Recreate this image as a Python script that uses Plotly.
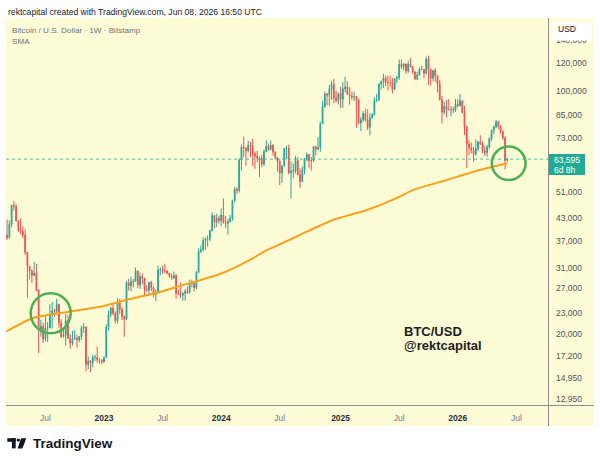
import math
import pandas as pd
import plotly.graph_objects as go

# ---------------- DATA (BTC/USD weekly, values in USD thousands) ----------------
first_week = "2022-03-07"   # weekly candles, one per Monday

opens = [
    38.4, 37.8, 41.3, 46.8, 46.4, 42.2, 39.7, 39.4, 38.5, 34.3, 31.3, 30.3, 29.4, 29.9, 26.6, 20.6, 21.0, 19.3, 20.8, 20.8, 22.6, 23.3, 23.2, 24.3, 21.5, 19.6, 19.8, 21.8, 19.4, 18.8, 19.3, 19.4, 19.2, 19.6, 20.8, 20.9, 16.3, 16.7, 16.5, 17.1, 17.1, 16.8, 16.8,
    16.6, 17.1, 20.9, 22.7, 23.7, 22.9, 21.8, 24.6, 23.5, 22.4, 22.0, 28.0, 27.5, 28.2, 28.3, 30.3, 27.6, 29.2, 28.9, 26.9, 26.7, 28.1, 27.1, 25.9, 26.3, 30.5, 30.6, 30.3, 30.3, 29.9, 29.3, 29.0, 29.4, 26.1, 26.1, 25.8, 26.1, 26.5, 26.3, 27.9, 27.9, 27.1, 30.0, 34.5, 35.0, 37.1, 37.4, 37.5, 39.5, 43.8, 41.9, 43.0,
    42.3, 43.9, 41.8, 41.6, 42.0, 43.0, 48.3, 52.1, 51.7, 63.1, 68.9, 68.4, 67.2, 69.7, 69.4, 65.7, 64.9, 63.9, 64.0, 61.5, 66.9, 69.3, 67.8, 69.6, 66.7, 64.3, 62.7, 58.0, 60.8, 68.2, 68.3, 58.1, 58.7, 58.9, 63.0, 57.3, 54.8, 59.2, 63.6, 65.6, 62.9, 62.9, 69.0, 67.9, 68.7, 80.4, 89.8, 97.9, 97.3, 101.1, 104.3, 95.2, 93.7,
    98.3, 94.5, 101.3, 102.6, 97.7, 96.5, 96.1, 96.3, 94.2, 80.7, 82.6, 86.1, 82.3, 78.4, 83.7, 85.2, 93.7, 94.3, 104.6, 106.4, 109.0, 105.7, 105.6, 105.5, 101.0, 108.4, 109.2, 119.1, 117.3, 119.4, 114.2, 119.3, 117.4, 113.5, 108.2, 111.1, 115.3, 115.2, 112.2, 123.5, 115.2, 108.6, 114.5, 110.5, 104.7, 94.2, 86.8, 90.4, 88.4, 88.2, 88.4, 87.8,
    91.5, 90.6, 93.6, 86.6, 78.7, 70.3, 68.6, 67.4, 65.8, 68.2, 71.2, 70.4, 67.0, 66.4, 68.9, 72.8, 76.9, 78.8, 81.5, 79.0, 76.3, 73.2, 63.0,
]
highs = [
    42.6, 42.4, 47.0, 48.2, 47.2, 42.4, 42.9, 40.8, 40.0, 34.3, 31.3, 30.6, 32.2, 31.8, 26.9, 21.9, 21.5, 22.5, 21.6, 24.3, 24.7, 23.6, 25.2, 24.4, 22.0, 20.6, 22.8, 22.7, 19.9, 20.4, 20.5, 19.9, 19.7, 21.1, 21.5, 21.0, 17.2, 16.8, 17.4, 17.4, 18.4, 17.0, 16.9,
    17.2, 21.3, 23.3, 23.9, 24.3, 23.2, 25.3, 25.2, 23.9, 22.6, 28.4, 28.8, 29.2, 28.8, 31.0, 30.4, 30.0, 29.8, 28.9, 27.6, 28.2, 28.4, 27.4, 26.8, 31.4, 31.0, 31.4, 31.8, 30.4, 29.9, 29.8, 30.2, 29.7, 26.8, 28.1, 26.4, 26.9, 27.4, 28.6, 28.6, 28.0, 30.3, 35.2, 35.9, 37.9, 37.9, 38.4, 39.9, 44.7, 43.8, 44.3, 43.8,
    45.9, 49.0, 43.6, 42.8, 43.9, 48.6, 52.8, 52.9, 64.0, 70.0, 73.8, 68.9, 71.8, 71.3, 72.8, 66.9, 67.2, 64.7, 65.5, 67.7, 72.0, 70.6, 72.0, 70.2, 66.9, 64.3, 63.8, 61.0, 68.4, 69.4, 70.0, 62.7, 61.8, 65.0, 64.5, 59.8, 60.6, 64.1, 66.5, 65.6, 64.5, 69.4, 69.5, 73.6, 81.5, 93.5, 99.6, 98.7, 104.0, 106.5, 108.3, 99.9, 98.9,
    102.7, 106.0, 109.6, 106.5, 102.5, 99.4, 99.5, 96.5, 95.0, 84.0, 87.5, 88.8, 88.5, 86.1, 86.4, 95.8, 97.9, 104.9, 107.1, 111.9, 110.7, 110.6, 110.4, 108.9, 108.5, 110.5, 123.0, 123.2, 120.2, 119.8, 122.3, 124.5, 117.6, 113.6, 113.4, 116.8, 117.9, 115.2, 125.5, 126.2, 116.0, 114.5, 116.4, 110.8, 107.5, 96.6, 93.1, 94.1, 94.6, 90.4, 90.0, 94.8,
    94.8, 97.9, 93.7, 90.5, 79.5, 72.0, 70.9, 69.0, 72.5, 71.8, 74.5, 71.5, 69.5, 70.0, 73.5, 77.5, 79.5, 82.5, 82.0, 79.6, 77.0, 74.0, 64.2,
]
lows = [
    37.2, 37.6, 40.5, 45.2, 42.1, 39.2, 38.6, 37.6, 33.7, 25.4, 28.7, 28.0, 29.3, 26.5, 17.6, 19.6, 18.8, 19.0, 18.9, 20.7, 20.7, 22.4, 22.7, 20.8, 19.5, 19.5, 18.5, 19.3, 18.1, 18.5, 19.2, 18.2, 18.9, 19.2, 20.1, 15.6, 15.8, 15.5, 16.0, 16.7, 16.5, 16.4, 16.3,
    16.5, 17.1, 20.4, 22.3, 22.6, 21.4, 21.4, 22.8, 21.9, 19.6, 21.9, 26.6, 26.5, 27.2, 28.2, 27.1, 26.9, 27.7, 25.8, 26.4, 25.9, 26.5, 25.4, 24.8, 26.2, 29.5, 29.7, 29.9, 29.6, 29.0, 28.6, 28.7, 25.2, 25.8, 25.3, 24.9, 24.9, 26.0, 26.1, 27.2, 26.5, 26.9, 29.9, 34.1, 34.5, 34.8, 35.6, 36.9, 39.5, 40.2, 40.6, 41.5,
    40.8, 41.5, 40.3, 38.5, 41.8, 42.3, 47.7, 50.5, 50.9, 59.0, 64.5, 60.8, 66.5, 64.5, 60.7, 59.6, 62.4, 56.5, 60.2, 60.8, 66.6, 67.1, 67.4, 65.1, 63.4, 58.5, 53.5, 54.3, 60.6, 63.5, 57.5, 49.0, 56.1, 57.8, 57.2, 52.6, 54.6, 57.5, 62.7, 59.8, 58.9, 62.4, 65.1, 67.5, 66.8, 80.2, 89.4, 90.8, 90.5, 94.2, 92.2, 92.5, 91.3,
    89.3, 89.3, 98.9, 97.7, 91.2, 94.1, 93.4, 78.2, 80.0, 76.6, 81.2, 81.6, 77.1, 74.4, 83.1, 85.1, 92.8, 93.4, 100.7, 102.0, 103.1, 100.4, 102.7, 98.2, 100.4, 105.2, 107.5, 115.7, 114.7, 112.0, 112.7, 116.8, 111.7, 107.3, 107.3, 110.6, 114.7, 108.6, 111.6, 104.0, 103.5, 106.5, 106.3, 98.9, 94.0, 80.6, 85.3, 83.8, 87.9, 84.4, 86.4, 86.9,
    89.5, 90.0, 86.1, 74.6, 60.0, 65.2, 66.0, 62.5, 64.9, 67.0, 69.8, 66.2, 65.0, 64.6, 68.0, 71.6, 75.0, 78.0, 77.5, 75.3, 72.2, 59.4, 62.6,
]
closes = [
    37.8, 41.3, 46.8, 46.4, 42.2, 39.7, 39.4, 38.5, 34.3, 31.3, 30.3, 29.4, 29.9, 26.6, 20.6, 21.0, 19.3, 20.8, 20.8, 22.6, 23.3, 23.2, 24.3, 21.5, 19.6, 19.8, 21.8, 19.4, 18.8, 19.3, 19.4, 19.2, 19.6, 20.8, 20.9, 16.3, 16.7, 16.5, 17.1, 17.1, 16.8, 16.8, 16.6,
    17.1, 20.9, 22.7, 23.7, 22.9, 21.8, 24.6, 23.5, 22.4, 22.0, 28.0, 27.5, 28.2, 28.3, 30.3, 27.6, 29.2, 28.9, 26.9, 26.7, 28.1, 27.1, 25.9, 26.3, 30.5, 30.6, 30.3, 30.3, 29.9, 29.3, 29.0, 29.4, 26.1, 26.1, 25.8, 26.1, 26.5, 26.3, 27.9, 27.9, 27.1, 30.0, 34.5, 35.0, 37.1, 37.4, 37.5, 39.5, 43.8, 41.9, 43.0, 42.3,
    43.9, 41.8, 41.6, 42.0, 43.0, 48.3, 52.1, 51.7, 63.1, 68.9, 68.4, 67.2, 69.7, 69.4, 65.7, 64.9, 63.9, 64.0, 61.5, 66.9, 69.3, 67.8, 69.6, 66.7, 64.3, 62.7, 58.0, 60.8, 68.2, 68.3, 58.1, 58.7, 58.9, 63.0, 57.3, 54.8, 59.2, 63.6, 65.6, 62.9, 62.9, 69.0, 67.9, 68.7, 80.4, 89.8, 97.9, 97.3, 101.1, 104.3, 95.2, 93.7, 98.3,
    94.5, 101.3, 102.6, 97.7, 96.5, 96.1, 96.3, 94.2, 80.7, 82.6, 86.1, 82.3, 78.4, 83.7, 85.2, 93.7, 94.3, 104.6, 106.4, 109.0, 105.7, 105.6, 105.5, 101.0, 108.4, 109.2, 119.1, 117.3, 119.4, 114.2, 119.3, 117.4, 113.5, 108.2, 111.1, 115.3, 115.2, 112.2, 123.5, 115.2, 108.6, 114.5, 110.5, 104.7, 94.2, 86.8, 90.4, 88.4, 88.2, 88.4, 87.8, 91.5,
    90.6, 93.6, 86.6, 78.7, 70.3, 68.6, 67.4, 65.8, 68.2, 71.2, 70.4, 67.0, 66.4, 68.9, 72.8, 76.9, 78.8, 81.5, 79.0, 76.3, 73.2, 63.0, 63.595,
]

# 200-week SMA, USD thousands
sma_dates = ["2022-03-04", "2022-05-27", "2022-09-09", "2022-12-21", "2023-04-02", "2023-06-15",
             "2023-09-04", "2023-12-19", "2024-02-19", "2024-03-30", "2024-05-22", "2024-07-11",
             "2024-09-02", "2024-12-13", "2025-03-29", "2025-07-09", "2025-08-18", "2025-12-02",
             "2026-03-15", "2026-06-08"]
sma_values = [20.3, 22.2, 23.1, 23.9, 25.3, 26.2, 27.6, 29.5, 31.2, 32.6, 34.8, 36.5,
              38.5, 42.5, 45.4, 49.6, 51.8, 55.4, 59.2, 61.9]

# axis ticks
y_tickvals = [12.95, 14.95, 17.2, 20, 23, 27, 31, 37, 43, 51, 73, 85, 100, 120, 140]
y_ticktext = ["12,950", "14,950", "17,200", "20,000", "23,000", "27,000", "31,000", "37,000",
              "43,000", "51,000", "73,000", "85,000", "100,000", "120,000", "140,000"]
x_tickvals = ["2022-07-04", "2023-01-02", "2023-07-03", "2024-01-01", "2024-07-01",
              "2025-01-06", "2025-07-07", "2026-01-05", "2026-07-06"]
x_ticklabels = ["Jul", "2023", "Jul", "2024", "Jul", "2025", "Jul", "2026", "Jul"]

last_price_text = "63,595"
countdown_text = "6d 8h"

# ---------------- STYLE ----------------
W, H = 600, 463
L, R, T, B = 6, 52, 18, 58
PW, PH = W - L - R, H - T - B
def px(x):
    return (x - L) / PW
def py(y):
    return (H - B - y) / PH

BG = "#fefcd7"
UP = "#26a69a"
DOWN = "#ef5350"
TEAL = "#22ab94"
ORANGE = "#f7a21b"
GREEN = "#4caf50"
FONT = "Liberation Sans, Arial, sans-serif"
DARK = "#131722"

weeks = pd.date_range(first_week, periods=len(closes), freq="7D")
x_range = ["2022-03-03 14:00", "2026-10-12 08:00"]

fig = go.Figure()
fig.add_trace(go.Candlestick(
    x=weeks, open=opens, high=highs, low=lows, close=closes,
    increasing=dict(line=dict(color=UP, width=1), fillcolor=UP),
    decreasing=dict(line=dict(color=DOWN, width=1), fillcolor=DOWN),
    whiskerwidth=0, hoverinfo="skip", showlegend=False,
))
fig.add_trace(go.Scatter(
    x=pd.to_datetime(sma_dates), y=sma_values, mode="lines",
    line=dict(color=ORANGE, width=2, shape="spline", smoothing=0.6),
    hoverinfo="skip", showlegend=False,
))
fig.add_trace(go.Scatter(
    x=x_range, y=[closes[-1], closes[-1]], mode="lines",
    line=dict(color="rgba(34,171,148,0.75)", width=1, dash="dot"),
    hoverinfo="skip", showlegend=False,
))

ticktext_x = [("<b><span style='color:#2a2e39'>%s</span></b>" % t) if t != "Jul" else t
              for t in x_ticklabels]

fig.update_layout(
    width=W, height=H, margin=dict(l=L, r=R, t=T, b=B, autoexpand=False),
    paper_bgcolor="white", plot_bgcolor=BG, boxgap=0.5,
    font=dict(family=FONT, color=DARK),
    showlegend=False,
    xaxis=dict(type="date", range=x_range, rangeslider=dict(visible=False),
               showgrid=False, zeroline=False, showline=False, ticks="",
               tickvals=x_tickvals, ticktext=ticktext_x,
               tickfont=dict(size=8.5, color="#787b86", family=FONT),
               ticklabelstandoff=6, fixedrange=True),
    yaxis=dict(type="log", range=[1.09587, 2.2095], side="right",
               showgrid=False, zeroline=False, showline=False, ticks="",
               tickvals=y_tickvals, ticktext=y_ticktext,
               tickfont=dict(size=8.5, color="#4f525c", family=FONT),
               ticklabelstandoff=7, fixedrange=True),
)

shapes = [
    dict(type="rect", xref="paper", yref="paper", x0=px(6), x1=px(594), y0=py(426), y1=py(18),
         fillcolor=BG, line=dict(width=0), layer="below"),
    dict(type="line", xref="paper", yref="paper", x0=px(6), x1=px(594), y0=py(405.5), y1=py(405.5),
         line=dict(color="#8f8f8f", width=1)),
    dict(type="line", xref="paper", yref="paper", x0=px(548.5), x1=px(548.5), y0=py(426), y1=py(18),
         line=dict(color="#8f8f8f", width=1)),
    # last price box
    dict(type="rect", xref="paper", yref="paper", x0=px(549), x1=px(585), y0=py(175), y1=py(154),
         fillcolor=TEAL, line=dict(width=0)),
    # green circles
    dict(type="circle", xref="paper", yref="paper", x0=px(30.7), x1=px(70.7), y0=py(333.3), y1=py(293.3),
         line=dict(color=GREEN, width=2.5)),
    dict(type="circle", xref="paper", yref="paper", x0=px(491.8), x1=px(525.6), y0=py(180), y1=py(146.6),
         line=dict(color=GREEN, width=2.5)),
    # TradingView logo mark
    dict(type="rect", xref="paper", yref="paper", x0=px(7.3), x1=px(15.7), y0=py(441.8), y1=py(438.2),
         fillcolor=DARK, line=dict(width=0)),
    dict(type="rect", xref="paper", yref="paper", x0=px(11.9), x1=px(15.7), y0=py(448.4), y1=py(438.2),
         fillcolor=DARK, line=dict(width=0)),
    dict(type="circle", xref="paper", yref="paper", x0=px(16.6), x1=px(20.0), y0=py(441.8), y1=py(438.4),
         fillcolor=DARK, line=dict(width=0)),
    dict(type="path", xref="paper", yref="paper",
         path="M %f,%f L %f,%f L %f,%f L %f,%f Z" % (px(21.0), py(438.2), px(26.3), py(438.2),
                                                   px(22.4), py(448.4), px(17.6), py(448.4)),
         fillcolor=DARK, line=dict(width=0)),
]
fig.update_layout(shapes=shapes)

def ann(text, x, y, size, color, xanchor="left", bold=False):
    return dict(text=("<b>%s</b>" % text) if bold else text, xref="paper", yref="paper",
                x=px(x), y=py(y), xanchor=xanchor, yanchor="middle", showarrow=False,
                font=dict(size=size, color=color, family=FONT), borderpad=0)

annotations = [
    ann("rektcapital created with TradingView.com, Jun 08, 2026 16:50 UTC", 6.5, 12, 8.6, "#1a1a1a"),
    ann("Bitcoin / U.S. Dollar · 1W · Bitstamp", 11.2, 30, 8.1, "#6d707a"),
    ann("SMA", 11.2, 41, 8.1, "#6d707a"),
    # white USD box covering the top of the 140,000 label
    dict(text=" ", xref="paper", yref="paper", x=px(552), y=py(21.5), xanchor="left", yanchor="top",
         width=38, height=16.5, bgcolor="white", showarrow=False, borderpad=0,
         font=dict(size=8, family=FONT)),
    ann("USD", 556.5, 29, 8.5, DARK),
    ann(last_price_text, 553, 159.5, 8.5, "white"),
    ann(countdown_text, 553, 169.5, 8.5, "white"),
    ann("BTC/USD", 402.5, 331, 13, "#1c1c1c", bold=True),
    ann("@rektcapital", 402.5, 345.5, 13, "#1c1c1c", bold=True),
    ann("TradingView", 31.5, 443.5, 13.5, DARK, bold=True),
]
fig.update_layout(annotations=annotations)

fig.write_html("out.html", config=dict(displayModeBar=False, staticPlot=True))
